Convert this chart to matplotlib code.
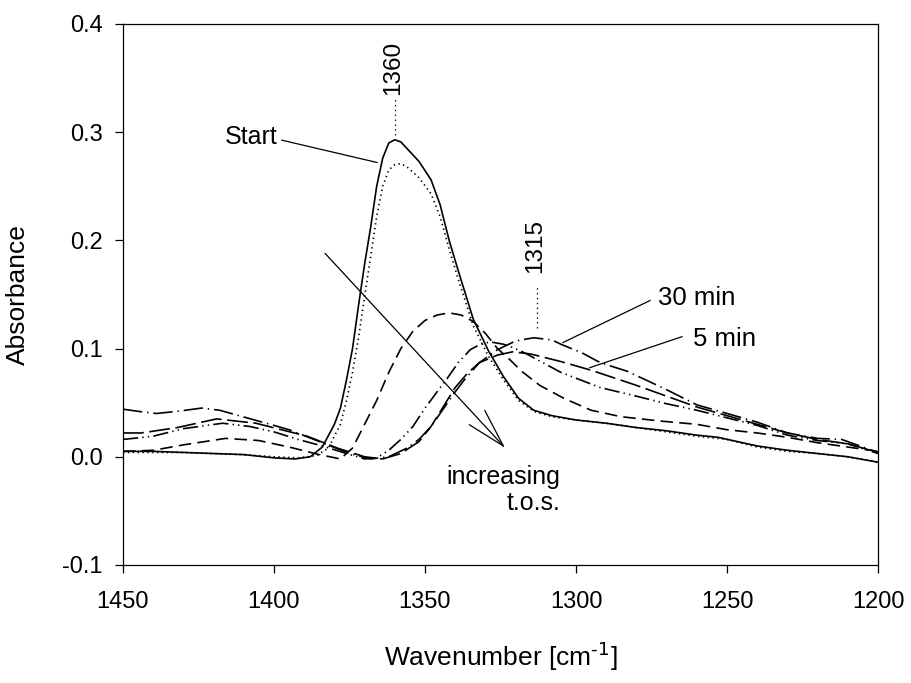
import matplotlib
matplotlib.use('Agg')
import matplotlib.pyplot as plt
from matplotlib import rcParams

rcParams['font.family'] = ['Liberation Sans', 'DejaVu Sans']
rcParams['mathtext.default'] = 'regular'
rcParams['axes.unicode_minus'] = False
rcParams['lines.scale_dashes'] = False

# Start (solid)
x_start = [1450, 1440, 1430, 1420, 1410, 1400, 1393, 1388, 1384, 1380, 1378, 1376, 1374, 1372, 1370,
           1368, 1366, 1364, 1362, 1360, 1358, 1356, 1352, 1348, 1345, 1342, 1339, 1334, 1329,
           1324, 1319, 1314, 1308, 1300, 1290, 1280, 1270, 1260, 1253, 1240, 1230, 1220, 1210, 1200]
y_start = [0.005, 0.005, 0.004, 0.003, 0.002, -0.001, -0.002, 0.000, 0.009, 0.030, 0.045, 0.071, 0.100,
           0.140, 0.178, 0.212, 0.250, 0.276, 0.290, 0.293, 0.291, 0.285, 0.273, 0.256, 0.233, 0.200,
           0.172, 0.127, 0.098, 0.074, 0.054, 0.043, 0.038, 0.034, 0.031, 0.027, 0.024, 0.020, 0.018,
           0.010, 0.006, 0.003, 0.000, -0.005]

# dotted
x_dot = [1450, 1440, 1430, 1420, 1410, 1400, 1392, 1386, 1382, 1378, 1376, 1374, 1372, 1370, 1368,
         1366, 1364, 1362, 1360, 1358, 1356, 1352, 1348, 1345, 1342, 1339, 1334, 1329, 1324, 1319,
         1314, 1308, 1300, 1290, 1280, 1270, 1260, 1250, 1240, 1230, 1220, 1210, 1200]
y_dot = [0.004, 0.004, 0.004, 0.003, 0.002, 0.000, -0.001, 0.001, 0.008, 0.030, 0.052, 0.078, 0.110,
         0.148, 0.185, 0.222, 0.250, 0.265, 0.270, 0.271, 0.268, 0.258, 0.243, 0.222, 0.192, 0.164,
         0.121, 0.093, 0.071, 0.052, 0.042, 0.037, 0.034, 0.031, 0.027, 0.023, 0.019, 0.016, 0.009,
         0.005, 0.003, 0.000, -0.005]

# medium dash
x_d1 = [1450, 1440, 1430, 1416, 1405, 1395, 1385, 1378, 1374, 1370, 1366, 1362, 1358, 1354, 1350,
        1346, 1342, 1338, 1334, 1330, 1326, 1322, 1318, 1312, 1304, 1295, 1285, 1272, 1260, 1250,
        1240, 1230, 1220, 1210, 1200]
y_d1 = [0.005, 0.006, 0.011, 0.017, 0.015, 0.009, 0.002, -0.002, 0.008, 0.030, 0.052, 0.078, 0.100,
        0.116, 0.126, 0.131, 0.133, 0.131, 0.125, 0.114, 0.100, 0.090, 0.079, 0.066, 0.054, 0.043,
        0.037, 0.033, 0.030, 0.025, 0.022, 0.018, 0.013, 0.009, 0.005]

# dash-dot-dot
x_ddd = [1450, 1440, 1430, 1417, 1408, 1400, 1392, 1384, 1376, 1370, 1366, 1362, 1358, 1354, 1350,
         1346, 1343, 1339, 1335, 1331, 1328, 1324, 1321, 1317, 1313, 1305, 1292, 1280, 1270, 1260,
         1250, 1240, 1230, 1220, 1210, 1200]
y_ddd = [0.016, 0.019, 0.026, 0.031, 0.028, 0.023, 0.016, 0.010, 0.003, -0.002, -0.001, 0.006, 0.016,
         0.028, 0.045, 0.060, 0.071, 0.087, 0.099, 0.105, 0.106, 0.104, 0.101, 0.096, 0.090, 0.078,
         0.064, 0.056, 0.049, 0.043, 0.036, 0.029, 0.020, 0.015, 0.012, 0.003]

# long dash (5 min)
x_5min = [1450, 1444, 1432, 1419, 1406, 1389, 1379, 1370, 1364, 1358, 1352, 1348, 1344, 1340, 1336,
          1332, 1326, 1321, 1315, 1305, 1295, 1280, 1270, 1260, 1250, 1240, 1230, 1220, 1210, 1200]
y_5min = [0.022, 0.022, 0.027, 0.035, 0.031, 0.019, 0.008, 0.000, -0.002, 0.003, 0.014, 0.028, 0.046,
          0.064, 0.077, 0.087, 0.094, 0.097, 0.095, 0.088, 0.080, 0.066, 0.056, 0.046, 0.038, 0.030,
          0.022, 0.016, 0.012, 0.004]

# dash-dot (30 min)
x_30min = [1450, 1445, 1439, 1432, 1424, 1418, 1409, 1400, 1395, 1384, 1375, 1368, 1362, 1356, 1352,
           1348, 1344, 1340, 1337, 1332, 1326, 1320, 1314, 1308, 1305, 1298, 1292, 1283, 1270, 1260,
           1250, 1240, 1230, 1220, 1212, 1206, 1200]
y_30min = [0.044, 0.042, 0.040, 0.042, 0.045, 0.043, 0.036, 0.029, 0.025, 0.013, 0.003, -0.002, 0.000,
           0.008, 0.016, 0.028, 0.044, 0.060, 0.071, 0.087, 0.099, 0.107, 0.110, 0.108, 0.104, 0.096,
           0.087, 0.079, 0.062, 0.048, 0.040, 0.032, 0.022, 0.017, 0.016, 0.010, 0.004]

fig = plt.figure(figsize=(9.11, 6.83), dpi=100)
ax = fig.add_axes([0.135, 0.1728, 0.8288, 0.7921])

lw = 1.2
ax.plot(x_start, y_start, color='black', lw=lw, linestyle='-')
ax.plot(x_dot, y_dot, color='black', lw=lw, linestyle=(0, (1, 2.5)))
ax.plot(x_d1, y_d1, color='black', lw=lw, linestyle=(0, (9, 4.5)))
ax.plot(x_ddd, y_ddd, color='black', lw=lw, linestyle=(0, (11, 3, 1, 3, 1, 3)))
ax.plot(x_5min, y_5min, color='black', lw=lw, linestyle=(0, (15, 4)))
ax.plot(x_30min, y_30min, color='black', lw=lw, linestyle=(0, (14, 3.5, 1, 3.5)))

# peak markers
ax.plot([1360, 1360], [0.297, 0.332], color='black', lw=0.9, linestyle=(0, (1, 2.5)))
ax.plot([1313, 1313], [0.119, 0.157], color='black', lw=0.9, linestyle=(0, (1, 2.5)))
ax.text(1360.5, 0.359, '1360', rotation=90, ha='center', va='center', fontsize=17.5)
ax.text(1313.5, 0.195, '1315', rotation=90, ha='center', va='center', fontsize=17.5)

# labels
ax.text(1407.6, 0.296, 'Start', ha='center', va='center', fontsize=18)
ax.plot([1397.4, 1365.9], [0.2926, 0.272], color='black', lw=0.9)
ax.text(1272.9, 0.147, '30 min', ha='left', va='center', fontsize=18.5)
ax.plot([1304.3, 1275.5], [0.1056, 0.1444], color='black', lw=0.9)
ax.text(1261.3, 0.109, '5 min', ha='left', va='center', fontsize=18.5)
ax.plot([1295.4, 1264.9], [0.0824, 0.111], color='black', lw=0.9)

ax.annotate('', xy=(1323.5, 0.0083), xytext=(1383.1, 0.188),
            arrowprops=dict(arrowstyle='->,head_length=1.4,head_width=0.38', mutation_scale=20,
                            lw=0.9, color='black', shrinkA=0, shrinkB=0))
ax.text(1305.3, -0.0306, 'increasing\nt.o.s.', ha='right', va='center', multialignment='right',
        fontsize=18, linespacing=1.1)

ax.set_xlim(1450, 1200)
ax.set_ylim(-0.1, 0.4)
ax.set_xticks([1450, 1400, 1350, 1300, 1250, 1200])
ax.set_yticks([-0.1, 0.0, 0.1, 0.2, 0.3, 0.4])
ax.set_yticklabels(['-0.1', '0.0', '0.1', '0.2', '0.3', '0.4'])
ax.tick_params(direction='out', length=5.5, width=0.9, labelsize=17)
ax.tick_params(axis='x', pad=13)
ax.tick_params(axis='y', pad=9)
for s in ax.spines.values():
    s.set_linewidth(0.9)

ax.set_ylabel('Absorbance', fontsize=19)
ax.set_xlabel(r'Wavenumber [cm$^{\text{-1}}$]', fontsize=19)
ax.yaxis.set_label_coords(-0.123, 0.5)
ax.xaxis.set_label_coords(0.5, -0.139)

fig.savefig('out.png', dpi=100)
